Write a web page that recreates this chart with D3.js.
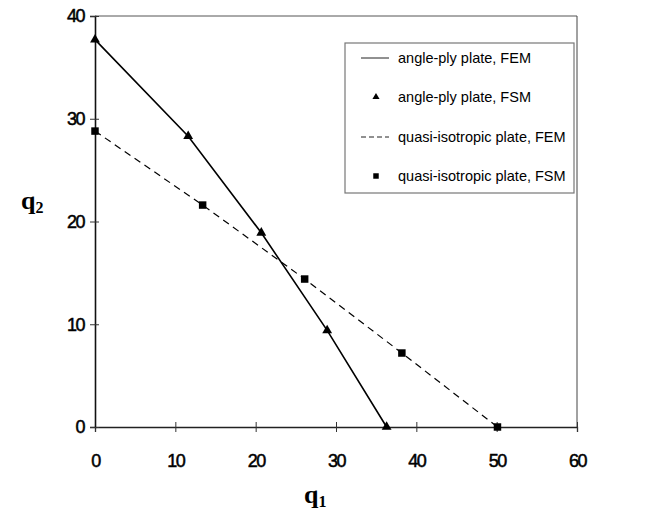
<!DOCTYPE html>
<html>
<head>
<meta charset="utf-8">
<script src="https://cdn.jsdelivr.net/npm/d3@7"></script>
<style>
  body { margin: 0; background: #fff; }
  svg { display: block; }
</style>
</head>
<body>
<div class="chart_area"></div>
<script>
// values
var q1_angle = [0, 11.6, 20.7, 28.9, 36.3];
var q2_angle = [37.7, 28.3, 18.9, 9.4, 0];
var q1_quasi = [0, 13.4, 26.1, 38.2, 50.1];
var q2_quasi = [28.8, 21.6, 14.4, 7.2, 0];
var x_ticks = [0, 10, 20, 30, 40, 50, 60];
var y_ticks = [0, 10, 20, 30, 40];
var legend_labels = ["angle-ply plate, FEM", "angle-ply plate, FSM",
                     "quasi-isotropic plate, FEM", "quasi-isotropic plate, FSM"];

var margin = {top: 16, right: 68, bottom: 92, left: 95},
    width = 645 - margin.left - margin.right,
    height = 519 - margin.top - margin.bottom;

var svg = d3.select(".chart_area")
  .append("svg")
  .attr("width", 645)
  .attr("height", 519);

var g = svg.append("g")
  .attr("transform", "translate(" + margin.left + "," + margin.top + ")");

var x = d3.scaleLinear().domain([0, 60]).range([0, width]);
var y = d3.scaleLinear().domain([0, 40]).range([height, 0]);

// frame (top and right, light)
g.append("line").attr("x1", 0).attr("x2", width).attr("y1", 0).attr("y2", 0)
  .attr("stroke", "#555").attr("stroke-width", 1);
g.append("line").attr("x1", width).attr("x2", width).attr("y1", 0).attr("y2", height)
  .attr("stroke", "#444").attr("stroke-width", 1);

// axes
var xAxis = g.append("g")
  .attr("transform", "translate(0," + height + ")")
  .call(d3.axisBottom(x).tickValues(x_ticks).tickSize(5).tickPadding(22));
xAxis.selectAll(".tick line").attr("y1", -5).attr("stroke", "#333");
xAxis.select(".domain").attr("stroke", "#222").attr("stroke-width", 1.3);

var yAxis = g.append("g")
  .call(d3.axisLeft(y).tickValues(y_ticks).tickSize(5).tickPadding(6));
yAxis.selectAll(".tick line").attr("x1", 4).attr("stroke", "#333");
yAxis.select(".domain").attr("stroke", "#111").attr("stroke-width", 1.6);

svg.selectAll(".tick text")
  .style("font-family", "'Liberation Sans', Arial, sans-serif")
  .style("font-size", "18px")
  .style("letter-spacing", "-1.5px")
  .attr("fill", "#000")
  .attr("stroke", "#000")
  .attr("stroke-width", 0.5);

// axis titles
var tq2 = svg.append("text").attr("x", 21).attr("y", 209)
  .style("font-family", "'Liberation Serif', 'Times New Roman', serif")
  .style("font-weight", "bold").style("font-size", "26px");
tq2.append("tspan").text("q");
tq2.append("tspan").attr("dy", 4).style("font-size", "16px").text("2");

var tq1 = svg.append("text").attr("x", 304).attr("y", 503)
  .style("font-family", "'Liberation Serif', 'Times New Roman', serif")
  .style("font-weight", "bold").style("font-size", "26px");
tq1.append("tspan").text("q");
tq1.append("tspan").attr("dy", 4).style("font-size", "16px").text("1");

// lines
var angle = q1_angle.map(function(d, i) { return [d, q2_angle[i]]; });
var quasi = q1_quasi.map(function(d, i) { return [d, q2_quasi[i]]; });

var line = d3.line()
  .x(function(d) { return x(d[0]); })
  .y(function(d) { return y(d[1]); });

g.append("path").datum(angle)
  .attr("d", line).attr("fill", "none")
  .attr("stroke", "#000").attr("stroke-width", 1.6);

g.append("path").datum(quasi)
  .attr("d", line).attr("fill", "none")
  .attr("stroke", "#000").attr("stroke-width", 1.2)
  .attr("stroke-dasharray", "7,5");

var tri = d3.symbol().type(d3.symbolTriangle).size(42);
var sq = d3.symbol().type(d3.symbolSquare).size(56);

g.selectAll(".tri")
  .data(angle)
  .enter()
  .append("path")
    .attr("class", "tri")
    .attr("d", tri)
    .attr("transform", function(d) { return "translate(" + x(d[0]) + "," + y(d[1]) + ")"; })
    .attr("fill", "#000");

g.selectAll(".sq")
  .data(quasi)
  .enter()
  .append("path")
    .attr("class", "sq")
    .attr("d", sq)
    .attr("transform", function(d) { return "translate(" + x(d[0]) + "," + y(d[1]) + ")"; })
    .attr("fill", "#000");

// legend
var lg = svg.append("g").attr("transform", "translate(345,43)");
lg.append("rect").attr("width", 229).attr("height", 150)
  .attr("fill", "#fff").attr("stroke", "#777").attr("stroke-width", 1.2);

var rowY = [15, 54, 94, 133];
legend_labels.forEach(function(lab, i) {
  var ry = rowY[i];
  if (i == 0) {
    lg.append("line").attr("x1", 16).attr("x2", 44).attr("y1", ry).attr("y2", ry)
      .attr("stroke", "#222").attr("stroke-width", 1);
  } else if (i == 2) {
    lg.append("line").attr("x1", 16).attr("x2", 44).attr("y1", ry).attr("y2", ry)
      .attr("stroke", "#222").attr("stroke-width", 1).attr("stroke-dasharray", "5,3");
  } else if (i == 1) {
    lg.append("path").attr("d", d3.symbol().type(d3.symbolTriangle).size(22))
      .attr("transform", "translate(31," + ry + ")").attr("fill", "#000");
  } else {
    lg.append("path").attr("d", d3.symbol().type(d3.symbolSquare).size(30))
      .attr("transform", "translate(31," + ry + ")").attr("fill", "#000");
  }
  lg.append("text").attr("x", 53).attr("y", ry + 5)
    .style("font-family", "'Liberation Sans', Arial, sans-serif")
    .style("font-size", "14.5px")
    .text(lab);
});
</script>
</body>
</html>
